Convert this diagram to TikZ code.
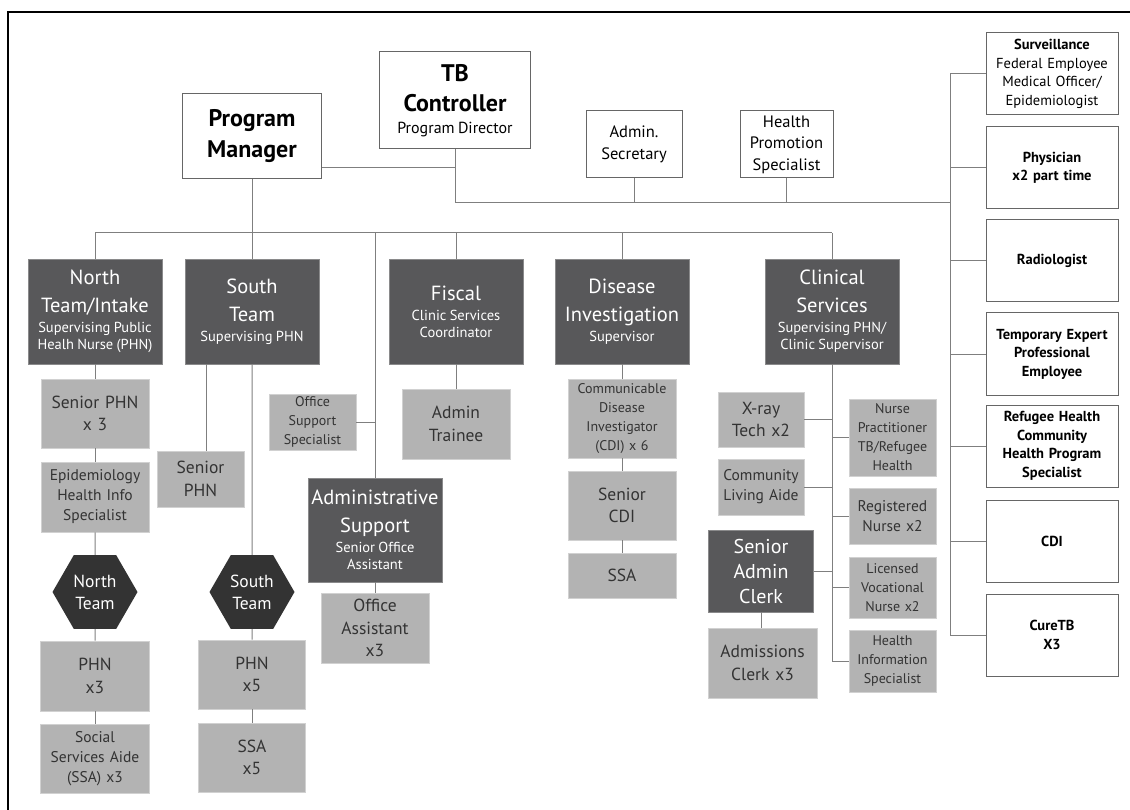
\documentclass[tikz,border=0pt]{standalone}
\usepackage{fontspec}
\setmainfont{PT Sans}
\usetikzlibrary{shapes.geometric}
\definecolor{headgray}{HTML}{58585A}
\definecolor{staffgray}{HTML}{B3B3B3}
\definecolor{hexgray}{HTML}{333333}
\definecolor{linegray}{HTML}{7F7F7F}
\definecolor{boxline}{HTML}{666666}
\definecolor{inkgray}{HTML}{333333}
\newcommand\pmF{\fontsize{24}{31}\selectfont\bfseries}
\newcommand\tbF{\fontsize{24}{30}\selectfont\bfseries}
\newcommand\dirF{\fontsize{16}{22}\selectfont\mdseries}
\newcommand\topF{\fontsize{16.5}{21.5}\selectfont}
\newcommand\sideF{\fontsize{14.5}{18.5}\selectfont}
\newcommand\hdF{\fontsize{20.5}{28}\selectfont}
\newcommand\hdsubF{\fontsize{14.5}{17}\selectfont}
\newcommand\hdgap{\par\vskip 3pt}
\newcommand\bigF{\fontsize{17.5}{22.5}\selectfont}
\newcommand\midF{\fontsize{15.5}{20}\selectfont}
\newcommand\smallF{\fontsize{14}{19}\selectfont}
\newcommand\hexF{\fontsize{17.5}{22}\selectfont}
\begin{document}
\begin{tikzpicture}[x=1pt,y=-1pt,
		conn/.style={draw=linegray,line width=1pt},
		wh/.style 2 args={text width=#1,minimum height=#2},
		topbox/.style={draw=boxline,line width=1pt,fill=white,text=black,align=center,inner sep=0pt},
		headbox/.style={fill=headgray,draw=headgray!70!white,line width=0.6pt,text=white,align=center,inner sep=0pt,wh={134pt}{105pt}},
		staffbox/.style={fill=staffgray,draw=staffgray!60!white,line width=0.6pt,text=inkgray,align=center,inner sep=0pt},
		sidebox/.style={topbox,wh={132pt}{82pt},font=\sideF\bfseries},
		teamhex/.style={regular polygon,regular polygon sides=6,minimum size=85pt,inner sep=0pt,fill=hexgray,text=white,align=center,font=\hexF}
	]
	\useasboundingbox (0,0) rectangle (1130,810);
	\draw[line width=2.5pt] (1130,12) -- (8,12) -- (8,810);

	% top of the chart
	\node[topbox,wh={139pt}{85pt},font=\pmF] (pm) at (252,136.5) {Program\\Manager};
	\node[topbox,wh={151pt}{97pt}] (tbc) at (455,100.5) {\tbF TB\\Controller\par\dirF Program Director\par};
	\node[topbox,wh={96pt}{67pt},font=\topF] (adsec) at (634,144.5) {Admin.\\Secretary};
	\node[topbox,wh={93pt}{67pt},font=\topF] (hps) at (786.5,144.5) {Health\\Promotion\\Specialist};

	% right column
	\node[sidebox,font=\sideF] (surv) at (1052,74) {\textbf{Surveillance}\\Federal Employee\\Medical Officer/\\Epidemiologist};
	\node[sidebox] (phys) at (1052,168) {Physician\\x2 part time};
	\node[sidebox] (radio) at (1052,261) {Radiologist};
	\node[sidebox] (temp) at (1052,354) {Temporary Expert\\Professional\\Employee};
	\node[sidebox] (refug) at (1052,446) {Refugee Health\\Community\\Health Program\\Specialist};
	\node[sidebox] (cdi) at (1052,541) {CDI};
	\node[sidebox] (cure) at (1052,635) {CureTB\\X3};

	% team heads
	\node[headbox] (north) at (95,311.5) {\hdF North\\Team/Intake\hdgap\hdsubF Supervising Public\\Healh Nurse (PHN)\par};
	\node[headbox] (south) at (252,311.5) {\hdF South\\Team\hdgap\hdsubF Supervising PHN\par};
	\node[headbox] (fiscal) at (456,311.5) {\hdF Fiscal\hdgap\hdsubF Clinic Services\\Coordinator\par};
	\node[headbox] (disease) at (622,311.5) {\hdF Disease\\Investigation\hdgap\hdsubF Supervisor\par};
	\node[headbox] (clinical) at (832,311.5) {\hdF Clinical\\Services\hdgap\hdsubF Supervising PHN/\\Clinic Supervisor\par};

	% north team
	\node[staffbox,wh={108pt}{69pt},font=\bigF] (snphn) at (95,413.5) {Senior PHN\\x 3};
	\node[staffbox,wh={108pt}{70pt},font=\midF] (epi) at (95,497) {Epidemiology\\Health Info\\Specialist};
	\node[teamhex] (nhex) at (95,592) {North\\Team};
	\node[staffbox,wh={109pt}{70pt},font=\bigF] (nphn) at (95,676) {PHN\\x3};
	\node[staffbox,wh={109pt}{69pt},font=\midF] (nssa) at (95,758.5) {Social\\Services Aide\\(SSA) x3};

	% south team
	\node[staffbox,wh={87pt}{56pt},font=\bigF] (ssphn) at (200.5,479) {Senior\\PHN};
	\node[teamhex] (shex) at (252,592) {South\\Team};
	\node[staffbox,wh={107pt}{69pt},font=\bigF] (sphn) at (252,674.5) {PHN\\x5};
	\node[staffbox,wh={107pt}{69pt},font=\bigF] (sssa) at (252,757.5) {SSA\\x5};

	% administrative support
	\node[staffbox,wh={87pt}{56pt},font=\smallF] (oss) at (312.5,422) {Office\\Support\\Specialist};
	\node[headbox,wh={134pt}{104pt}] (adsup) at (375,530) {\hdF Administrative\\Support\hdgap\hdsubF Senior Office\\Assistant\par};
	\node[staffbox,wh={108pt}{70pt},font=\bigF] (oa) at (375,628) {Office\\Assistant\\x3};

	% fiscal and disease investigation
	\node[staffbox,wh={108pt}{70pt},font=\bigF] (trainee) at (456,424) {Admin\\Trainee};
	\node[staffbox,wh={108pt}{79pt},font=\smallF] (cdix) at (622,418.5) {Communicable\\Disease\\Investigator\\(CDI) x 6};
	\node[staffbox,wh={108pt}{69pt},font=\bigF] (scdi) at (622,505.5) {Senior\\CDI};
	\node[staffbox,wh={108pt}{45pt},font=\bigF] (dssa) at (622,575.5) {SSA};

	% clinical services
	\node[staffbox,wh={86pt}{55pt},font=\bigF] (xray) at (761,419.5) {X-ray\\Tech x2};
	\node[staffbox,wh={86pt}{56pt},font=\midF] (cla) at (761,487) {Community\\Living Aide};
	\node[headbox,wh={105pt}{82pt},font=\fontsize{20}{25}\selectfont] (sac) at (761,571) {Senior\\Admin\\Clerk};
	\node[staffbox,wh={109pt}{70pt},font=\bigF] (adc) at (762.5,663) {Admissions\\Clerk x3};
	\node[staffbox,wh={87pt}{77pt},font=\smallF] (np) at (892.5,437.5) {Nurse\\Practitioner\\TB/Refugee\\Health};
	\node[staffbox,wh={87pt}{56pt},font=\midF] (rn) at (892.5,516) {Registered\\Nurse x2};
	\node[staffbox,wh={87pt}{61pt},font=\smallF] (lvn) at (892.5,587.5) {Licensed\\Vocational\\Nurse x2};
	\node[staffbox,wh={87pt}{62pt},font=\smallF] (his) at (892.5,661) {Health\\Information\\Specialist};

	% connectors
	\coordinate (tbjoin) at (455,168);
	\coordinate (hbus) at (950,203);
	\coordinate (rtop) at (950,74);
	\coordinate (rbot) at (950,635);
	\coordinate (busL) at (95,233);
	\coordinate (busR) at (832,233);
	\coordinate (clinbot) at (832,661);
	\draw[conn] (pm.east |- tbjoin) -- (tbjoin);
	\draw[conn] (tbc.south) |- (hbus);
	\draw[conn] (adsec.south) -- (adsec.south |- hbus);
	\draw[conn] (hps.south) -- (hps.south |- hbus);
	\draw[conn] (rtop) -- (rbot);
	\foreach \n in {surv,phys,radio,temp,refug,cdi,cure}
		\draw[conn] (\n.west) -- (\n.west -| rtop);
	\draw[conn] (busL) -- (busR);
	\draw[conn] (pm.south) -- (south.north);
	\foreach \n in {north,fiscal,disease,clinical,adsup}
		\draw[conn] (\n.north) -- (\n.north |- busL);
	\draw[conn] (north.south) -- (snphn.north);
	\draw[conn] (snphn.south) -- (epi.north);
	\draw[conn] (epi.south) -- (nhex.north);
	\draw[conn] (nhex.south) -- (nphn.north);
	\draw[conn] (nphn.south) -- (nssa.north);
	\draw[conn] ([xshift=6pt]ssphn.north) -- ([xshift=6pt]ssphn.north |- south.south);
	\draw[conn] (south.south) -- (shex.north);
	\draw[conn] (shex.south) -- (sphn.north);
	\draw[conn] (sphn.south) -- (sssa.north);
	\draw[conn] (oss.east) -- (oss.east -| adsup.north);
	\draw[conn] (adsup.south) -- (oa.north);
	\draw[conn] (fiscal.south) -- (trainee.north);
	\draw[conn] (disease.south) -- (cdix.north);
	\draw[conn] (cdix.south) -- (scdi.north);
	\draw[conn] (scdi.south) -- (dssa.north);
	\draw[conn] (clinical.south) -- (clinbot);
	\foreach \n in {xray,cla,sac}
		\draw[conn] (\n.east) -- (\n.east -| clinbot);
	\foreach \n in {np,rn,lvn,his}
		\draw[conn] (\n.west) -- (\n.west -| clinbot);
	\draw[conn] (sac.south) -- (sac.south |- adc.north);
\end{tikzpicture}
\end{document}
